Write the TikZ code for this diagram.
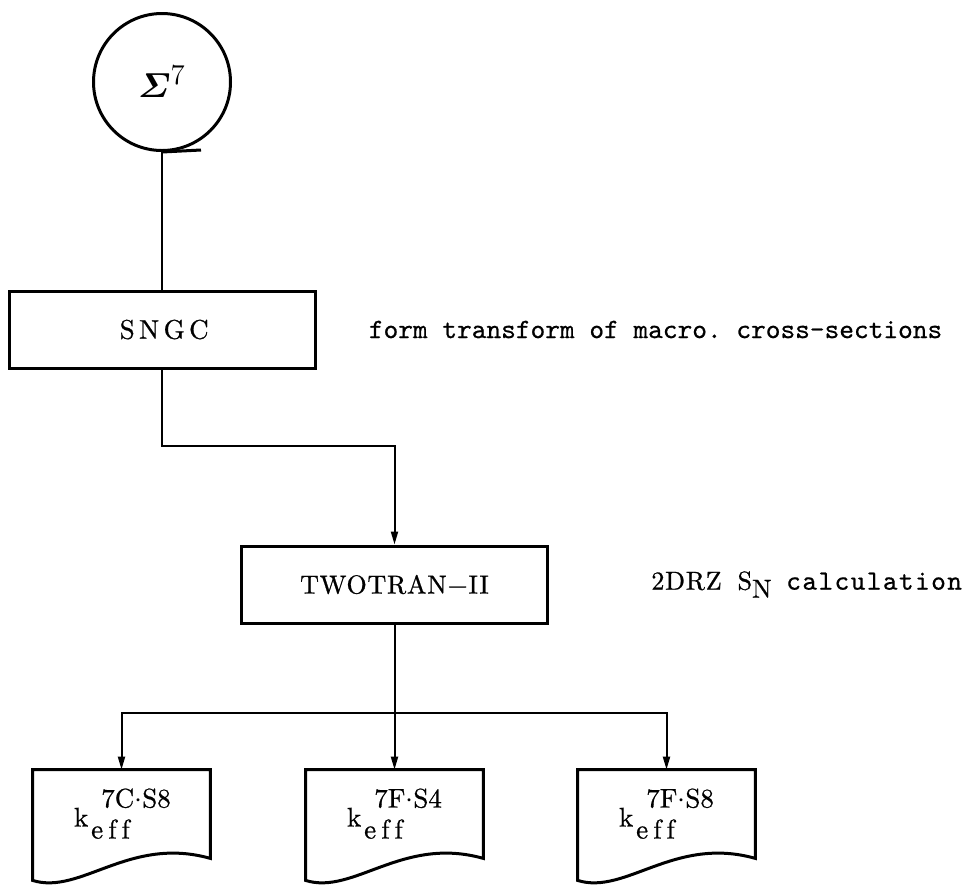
\documentclass[tikz,border=0pt]{standalone}
\usepackage{amsmath}
\usepackage[no-math]{fontspec}
\usetikzlibrary{positioning,arrows.meta,calc}

\setmainfont{lmroman10-regular}[Extension=.otf, FakeBold=0.7]
\setmonofont{lmmono10-regular}[Extension=.otf, FakeBold=0.6]
\newfontfamily\sngcrm{lmroman10-regular}[Extension=.otf, LetterSpace=16, FakeBold=0.8]
\newfontfamily\tworm{lmroman10-regular}[Extension=.otf, LetterSpace=3, FakeBold=0.8]
\newfontfamily\calctt{lmmono10-regular}[Extension=.otf, LetterSpace=5, FakeBold=0.6]
\newcommand\boxfnt{\fontsize{13.5}{16}\selectfont}
\newcommand\notefnt{\ttfamily\fontsize{14}{16}\selectfont}

\begin{document}
\begin{tikzpicture}[
  x=0.5pt, y=-0.5pt,
  conn/.style={line width=1pt},
  arr/.style={conn,-{Triangle[length=6.5pt,width=3.5pt]}},
  proc/.style={rectangle,draw,line width=1.5pt,minimum width=153pt,minimum height=38.5pt,font=\boxfnt},
  store/.style={circle,draw,line width=1.5pt,minimum size=68.5pt,inner sep=0pt,font=\fontsize{19}{21}\selectfont},
  doc/.style={rectangle,minimum width=88.5pt,minimum height=56.5pt,inner sep=0pt},
  docline/.style={line width=1.5pt,line join=miter},
  keff/.style={inner sep=0pt,font=\rmfamily\fontsize{13.5}{15}\selectfont},
  note/.style={inner sep=0pt,anchor=west,font=\notefnt}
]
\useasboundingbox (0,0) rectangle (974,885);

% Flow
\node[store] (sig) at (162,82) {$\boldsymbol{\varSigma}^{7}$};
\node[proc] (sngc) at (162,329.5) {\sngcrm SNGC\kern-2.2pt};
\node[proc] (two) at (394.5,584.5) {\tworm\fontsize{13}{16}\selectfont TWOTRAN−II};

% Outputs
\node[doc] (d1) at (121.5,826.5) {};
\node[doc] (d2) at (394.5,826.5) {};
\node[doc] (d3) at (666.5,826.5) {};
\foreach \d in {d1,d2,d3}
  \draw[docline] ($(\d.south west)+(0,-3)$) -- (\d.north west) -- (\d.north east)
    -- ($(\d.south east)+(0,-25)$)
    .. controls ($(\d.south east)+(-81,-48)$) and ($(\d.south west)+(48,12)$) .. ($(\d.south west)+(0,-3)$) -- cycle;
\foreach \d/\a/\b in {d1/C/8,d2/F/4,d3/F/8}
  \node[keff,anchor=base west] (k\d) at ($(\d.west)+(41,0)$)
    {k\kern1.5pt\rlap{\kern5pt\raisebox{9.5pt}{7\a$\cdot$S\b}}\raisebox{-6pt}{e\kern2.5pt f\kern2.5pt f}};

% Links
\coordinate (tail) at (201,150);
\draw[docline] (sig.south) -- (tail);
\draw[conn] (sig.south) -- (sngc.north);
\draw[arr] (sngc.south) -- ++(0,76) -| (two.north);
\coordinate (split) at (394.5,713);
\draw[conn] (two.south) -- (split);
\draw[arr] (split) -| (d1.north);
\draw[arr] (split) -- (d2.north);
\draw[arr] (split) -| (d3.north);

% Notes
\node[note, right=26pt of sngc] (xsec) {form transform of macro. cross-sections};
\node[note, right=51pt of two] (sncalc)
  {{\tworm\fontsize{13}{15}\selectfont 2DRZ\kern8pt S\raisebox{-4pt}{N}} \calctt calculation};
\end{tikzpicture}
\end{document}
